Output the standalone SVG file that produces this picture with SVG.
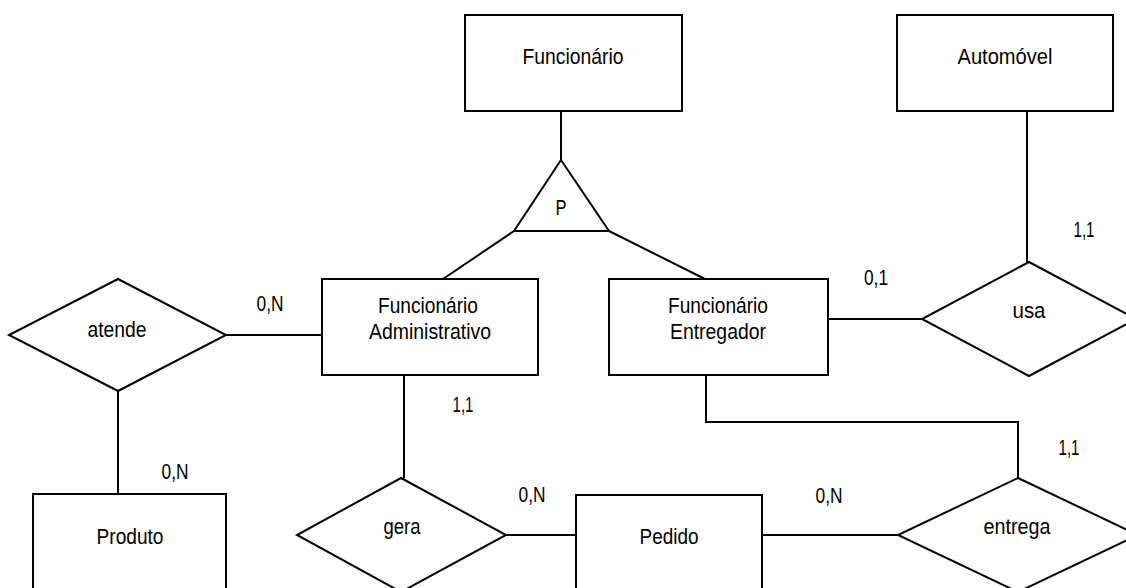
<svg xmlns="http://www.w3.org/2000/svg" width="1126" height="588" viewBox="0 0 1126 588">
<style>
.s{fill:#fff;stroke:#000;stroke-width:2}
.c{fill:none;stroke:#000;stroke-width:2}
text{font-family:"Liberation Sans",Arial,sans-serif;font-size:22px;fill:#000;text-anchor:middle}
</style>
<rect width="1126" height="588" fill="#fff"/>
<g id="connectors">
<path class="c" d="M561,111 V160"/>
<path class="c" d="M514,231 L443,279"/>
<path class="c" d="M609,231 L705,279"/>
<path class="c" d="M1027,111 V262"/>
<path class="c" d="M828,319 H922"/>
<path class="c" d="M706,375 V422 H1018 V478"/>
<path class="c" d="M762,535 H898"/>
<path class="c" d="M506,535 H576"/>
<path class="c" d="M404,375 V478"/>
<path class="c" d="M226,335 H322"/>
<path class="c" d="M118,391 V494"/>
<text x="270" y="311" textLength="27" lengthAdjust="spacingAndGlyphs">0,N</text>
<text x="175" y="479" textLength="27" lengthAdjust="spacingAndGlyphs">0,N</text>
<text x="532" y="502" textLength="27" lengthAdjust="spacingAndGlyphs">0,N</text>
<text x="829" y="503" textLength="27" lengthAdjust="spacingAndGlyphs">0,N</text>
<text x="876" y="285" textLength="24" lengthAdjust="spacingAndGlyphs">0,1</text>
<text x="1084" y="237" textLength="21" lengthAdjust="spacingAndGlyphs">1,1</text>
<text x="1069" y="455" textLength="21" lengthAdjust="spacingAndGlyphs">1,1</text>
<text x="463" y="412" textLength="21" lengthAdjust="spacingAndGlyphs">1,1</text>
</g>
<g id="funcionario">
<rect class="s" x="465" y="15" width="217" height="96"/>
<text x="573" y="64" textLength="101" lengthAdjust="spacingAndGlyphs">Funcionário</text>
</g>
<g id="especializacao">
<polygon class="s" points="561,160 609,231 514,231"/>
<text x="561" y="215" textLength="11" lengthAdjust="spacingAndGlyphs">P</text>
</g>
<g id="automovel">
<rect class="s" x="897" y="15" width="216" height="96"/>
<text x="1005" y="64" textLength="95" lengthAdjust="spacingAndGlyphs">Automóvel</text>
</g>
<g id="func-admin">
<rect class="s" x="322" y="279" width="216" height="96"/>
<text x="428" y="313" textLength="100" lengthAdjust="spacingAndGlyphs">Funcionário</text>
<text x="430" y="339" textLength="122" lengthAdjust="spacingAndGlyphs">Administrativo</text>
</g>
<g id="func-entregador">
<rect class="s" x="609" y="279" width="219" height="96"/>
<text x="718" y="313" textLength="100" lengthAdjust="spacingAndGlyphs">Funcionário</text>
<text x="718" y="339" textLength="96" lengthAdjust="spacingAndGlyphs">Entregador</text>
</g>
<g id="atende">
<polygon class="s" points="118,279 226,335 118,391 9,335"/>
<text x="117" y="337" textLength="59" lengthAdjust="spacingAndGlyphs">atende</text>
</g>
<g id="produto">
<rect class="s" x="33" y="494" width="193" height="110"/>
<text x="130" y="544" textLength="67" lengthAdjust="spacingAndGlyphs">Produto</text>
</g>
<g id="gera">
<polygon class="s" points="401,478 506,535 401,592 297,535"/>
<text x="402" y="534" textLength="37" lengthAdjust="spacingAndGlyphs">gera</text>
</g>
<g id="pedido">
<rect class="s" x="576" y="495" width="186" height="110"/>
<text x="669" y="544" textLength="59" lengthAdjust="spacingAndGlyphs">Pedido</text>
</g>
<g id="usa">
<polygon class="s" points="1029,262 1136,319 1029,376 922,319"/>
<text x="1029" y="318" textLength="33" lengthAdjust="spacingAndGlyphs">usa</text>
</g>
<g id="entrega">
<polygon class="s" points="1018,478 1138,535 1018,592 898,535"/>
<text x="1017" y="534" textLength="67" lengthAdjust="spacingAndGlyphs">entrega</text>
</g>
</svg>
